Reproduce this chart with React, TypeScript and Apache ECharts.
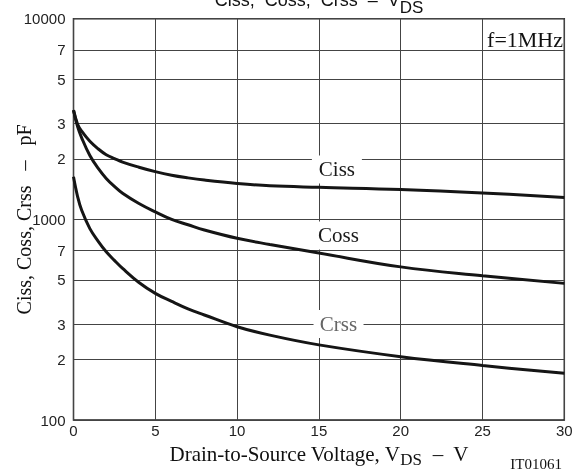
import React, { useEffect, useRef } from "react";
import * as echarts from "echarts";

const vds = [0, 0.25, 0.5, 1, 1.5, 2, 2.5, 3, 4, 5, 6, 7, 8, 10, 12, 15, 20, 25, 30];
const ciss = [3500, 2980, 2750, 2450, 2250, 2100, 2010, 1930, 1820, 1730, 1660, 1610, 1570, 1510, 1470, 1445, 1410, 1355, 1285];
const coss = [3500, 2900, 2550, 2080, 1800, 1600, 1460, 1350, 1200, 1090, 1000, 940, 885, 805, 750, 680, 580, 524, 480];
const crss = [1630, 1300, 1110, 900, 780, 690, 625, 570, 485, 428, 390, 358, 334, 292, 265, 237, 207, 187, 171];

const yGridValues = [100, 200, 300, 500, 700, 1000, 2000, 3000, 5000, 7000, 10000];
const yGridLabels = ["100", "2", "3", "5", "7", "1000", "2", "3", "5", "7", "10000"];
const xTicks = [0, 5, 10, 15, 20, 25, 30];

const SERIF = "'Liberation Serif', 'Times New Roman', serif";
const SANS = "'Liberation Sans', Arial, sans-serif";

export default function App() {
  const ref = useRef<HTMLDivElement>(null);
  useEffect(() => {
    if (!ref.current) return;
    const chart = echarts.init(ref.current, null, { renderer: "svg" });
    const curve = (name: string, vals: number[]) => ({
      name,
      type: "line",
      data: vds.map((x, i) => [x, vals[i]]),
      showSymbol: false,
      smooth: 0.4,
      z: 4,
      lineStyle: { color: "#151515", width: 3 },
    });
    const labelBox = (name: string, coord: number[], color: string) => ({
      name,
      coord,
      symbol: "rect",
      symbolSize: [50, 28],
      itemStyle: { color: "#ffffff" },
      label: {
        show: true,
        position: "inside",
        formatter: name,
        color,
        fontFamily: SERIF,
        fontSize: 21,
      },
    });
    chart.setOption({
      animation: false,
      title: {
        text: "{m|Ciss,  Coss,  Crss  –  V}{s|DS}",
        left: 319,
        textAlign: "center",
        top: -4,
        padding: 0,
        textStyle: {
          fontWeight: "normal",
          rich: {
            m: { fontSize: 18, fontFamily: SANS, fontWeight: "normal", color: "#111", lineHeight: 20, padding: [0, 0, 7, 0], verticalAlign: "bottom" },
            s: { fontSize: 17, fontFamily: SANS, fontWeight: "normal", color: "#111", lineHeight: 17, verticalAlign: "bottom" },
          },
        },
      },
      grid: {
        left: 73.5,
        right: 21.7,
        top: 18.7,
        bottom: 46.3,
        show: true,
        borderColor: "#222",
        borderWidth: 1.5,
        backgroundColor: "transparent",
      },
      xAxis: {
        type: "value",
        min: 0,
        max: 30,
        interval: 5,
        axisLine: { show: false },
        axisTick: { show: false },
        axisLabel: {
          fontFamily: SANS,
          fontSize: 15,
          color: "#222",
          margin: 3,
          formatter: (v: number) => (xTicks.includes(v) ? String(v) : ""),
        },
        splitLine: { show: true, lineStyle: { color: "#444", width: 1 } },
        name: "{m|Drain-to-Source Voltage, V}{s|DS}{m|  –  V}",
        nameLocation: "middle",
        nameGap: 16,
        nameTextStyle: {
          rich: {
            m: { fontSize: 21, fontFamily: SERIF, color: "#111", lineHeight: 22, padding: [0, 0, 4, 0], verticalAlign: "bottom" },
            s: { fontSize: 17, fontFamily: SERIF, color: "#111", lineHeight: 16, verticalAlign: "bottom" },
          },
        },
      },
      yAxis: {
        type: "log",
        logBase: 10,
        min: 100,
        max: 10000,
        axisLine: { show: false },
        axisTick: { show: false },
        axisLabel: { show: false },
        splitLine: { show: false },
        name: "Ciss, Coss, Crss   –   pF",
        nameLocation: "middle",
        nameRotate: 90,
        nameGap: 40,
        nameTextStyle: { fontFamily: SERIF, fontSize: 20, color: "#111" },
      },
      graphic: [
        {
          type: "text",
          right: 23,
          top: 28,
          style: { text: "f=1MHz", font: `22px ${SERIF}`, fill: "#111" },
        },
        {
          type: "text",
          right: 24,
          top: 456,
          style: { text: "IT01061", font: `15px ${SERIF}`, fill: "#111" },
        },
      ],
      series: [
        {
          name: "grid",
          type: "line",
          data: [[0, 100]],
          showSymbol: false,
          lineStyle: { opacity: 0 },
          z: 1,
          silent: true,
          markLine: {
            silent: true,
            symbol: ["none", "none"],
            z: 1,
            lineStyle: { color: "#444", width: 1, type: "solid" },
            label: {
              show: true,
              position: "start",
              distance: 8,
              fontFamily: SANS,
              fontSize: 15,
              color: "#222",
              formatter: (p: any) => p.name,
            },
            data: yGridValues.map((v, i) => ({ yAxis: v, name: yGridLabels[i] })),
          },
          markPoint: {
            silent: true,
            z: 3,
            data: [
              labelBox("Ciss", [16.1, 1774], "#1a1a1a"),
              labelBox("Coss", [16.2, 832], "#1a1a1a"),
              labelBox("Crss", [16.2, 301], "#666"),
            ],
          },
        },
        curve("Ciss", ciss),
        curve("Coss", coss),
        curve("Crss", crss),
      ],
    });
    return () => chart.dispose();
  }, []);
  return <div ref={ref} style={{ position: "fixed", left: 0, top: 0, width: 586, height: 473 }} />;
}
